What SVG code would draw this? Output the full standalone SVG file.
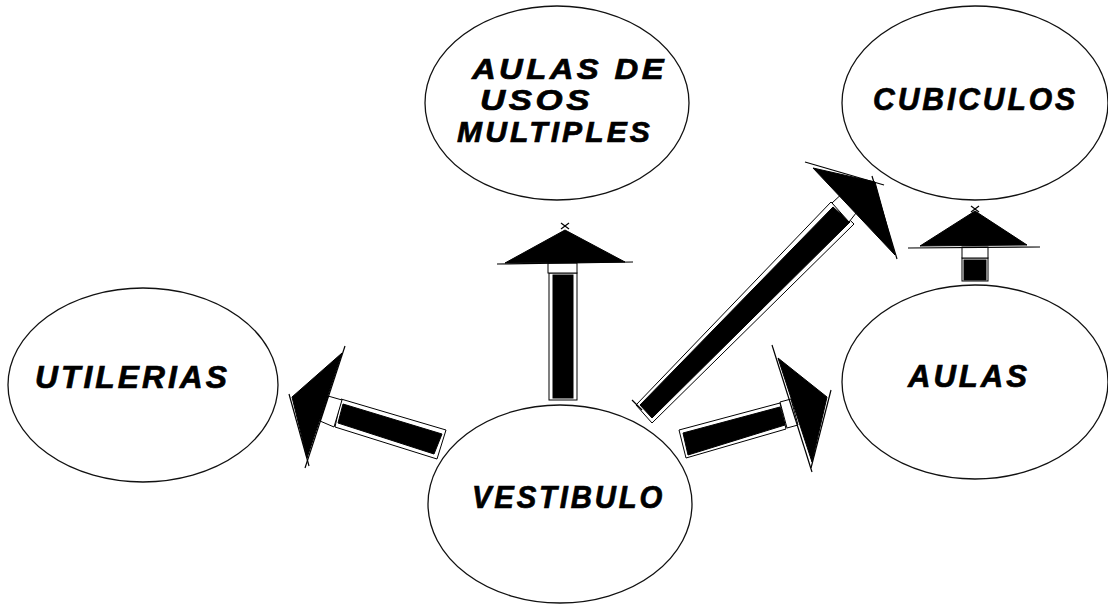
<svg xmlns="http://www.w3.org/2000/svg" width="1108" height="606" viewBox="0 0 1108 606">
<style>
.bg{fill:#ffffff}
.node{fill:none;stroke:#111;stroke-width:1.3}
.lbl{font-family:"Liberation Sans",Arial,sans-serif;font-weight:bold;font-style:italic;font-size:31px;letter-spacing:3px;fill:#000;stroke:#000;stroke-width:0.7}
.sm{font-size:29px}
.blk{fill:#000;stroke:#000;stroke-width:1}
.out{fill:#fff;stroke:#000;stroke-width:1}
.ln{fill:none;stroke:#000;stroke-width:1.2}
</style>
<rect class="bg" x="0" y="0" width="1108" height="606"/>
<g id="connectors">
  <g id="arrow-utilerias">
    <polygon class="out" points="341,399 446,430 437,459 335,427"/>
    <polygon class="blk" points="343,404 442,434 434,454 338,423"/>
    <polygon class="out" points="328,396 342,400 334,427 320,421"/>
    <polygon class="blk" points="342,353 292,397 307,458"/>
    <line class="ln" x1="345" y1="346" x2="305" y2="468"/>
    <line class="ln" x1="289" y1="394" x2="309" y2="466"/>
  </g>
  <g id="arrow-multiples">
    <rect class="out" x="549" y="273" width="28" height="127"/>
    <rect class="blk" x="553" y="275" width="20" height="123"/>
    <rect class="out" x="548" y="263" width="29" height="10"/>
    <polygon class="blk" points="565,230 505,263 625,262"/>
    <line class="ln" x1="497" y1="264" x2="633" y2="262"/>
    <line class="ln" x1="561" y1="223" x2="569" y2="229"/>
    <line class="ln" x1="569" y1="223" x2="561" y2="229"/>
  </g>
  <g id="arrow-cubiculos">
    <polygon class="out" points="636,405 831,202 854,224 652,423"/>
    <polygon class="blk" points="640,405 833,207 850,222 652,418"/>
    <polygon class="out" points="832,203 846,190 860,208 849,222"/>
    <polygon class="blk" points="813,168 875,182 895,255"/>
    <line class="ln" x1="805" y1="162" x2="884" y2="185"/>
    <line class="ln" x1="872" y1="176" x2="897" y2="259"/>
    <line class="ln" x1="632" y1="400" x2="642" y2="410"/>
  </g>
  <g id="arrow-aulas">
    <polygon class="out" points="679,430 780,403 786,429 686,458"/>
    <polygon class="blk" points="683,433 780,407 785,425 688,455"/>
    <polygon class="out" points="780,402 791,399 798,425 787,428"/>
    <polygon class="blk" points="778,358 827,397 812,462"/>
    <line class="ln" x1="772" y1="345" x2="812" y2="472"/>
    <line class="ln" x1="831" y1="390" x2="811" y2="468"/>
  </g>
  <g id="arrow-aulas-cubiculos">
    <rect class="out" x="962" y="258" width="26" height="23"/>
    <rect class="blk" x="964" y="260" width="22" height="20"/>
    <rect class="out" x="962" y="247" width="26" height="11"/>
    <polygon class="blk" points="975,211 920,246 1027,245"/>
    <line class="ln" x1="908" y1="248" x2="1040" y2="247"/>
    <line class="ln" x1="971" y1="206" x2="979" y2="212"/>
    <line class="ln" x1="979" y1="206" x2="971" y2="212"/>
  </g>
</g>
<g id="node-multiples">
  <ellipse class="node" cx="557" cy="103" rx="132" ry="97"/>
  <text class="lbl sm" x="472" y="79" textLength="195" lengthAdjust="spacingAndGlyphs">AULAS DE</text>
  <text class="lbl sm" x="480" y="110" textLength="113" lengthAdjust="spacingAndGlyphs">USOS</text>
  <text class="lbl sm" x="457" y="142" textLength="196" lengthAdjust="spacingAndGlyphs">MULTIPLES</text>
</g>
<g id="node-cubiculos">
  <ellipse class="node" cx="975" cy="103" rx="133" ry="97"/>
  <text class="lbl" x="873" y="110" textLength="205" lengthAdjust="spacingAndGlyphs">CUBICULOS</text>
</g>
<g id="node-utilerias">
  <ellipse class="node" cx="143" cy="385" rx="135" ry="97"/>
  <text class="lbl" x="35" y="388" textLength="195" lengthAdjust="spacingAndGlyphs">UTILERIAS</text>
</g>
<g id="node-vestibulo">
  <ellipse class="node" cx="560" cy="504" rx="132" ry="99"/>
  <text class="lbl" x="472" y="508" textLength="193" lengthAdjust="spacingAndGlyphs">VESTIBULO</text>
</g>
<g id="node-aulas">
  <ellipse class="node" cx="975" cy="382" rx="133" ry="97"/>
  <text class="lbl" x="908" y="387" textLength="122" lengthAdjust="spacingAndGlyphs">AULAS</text>
</g>
</svg>
